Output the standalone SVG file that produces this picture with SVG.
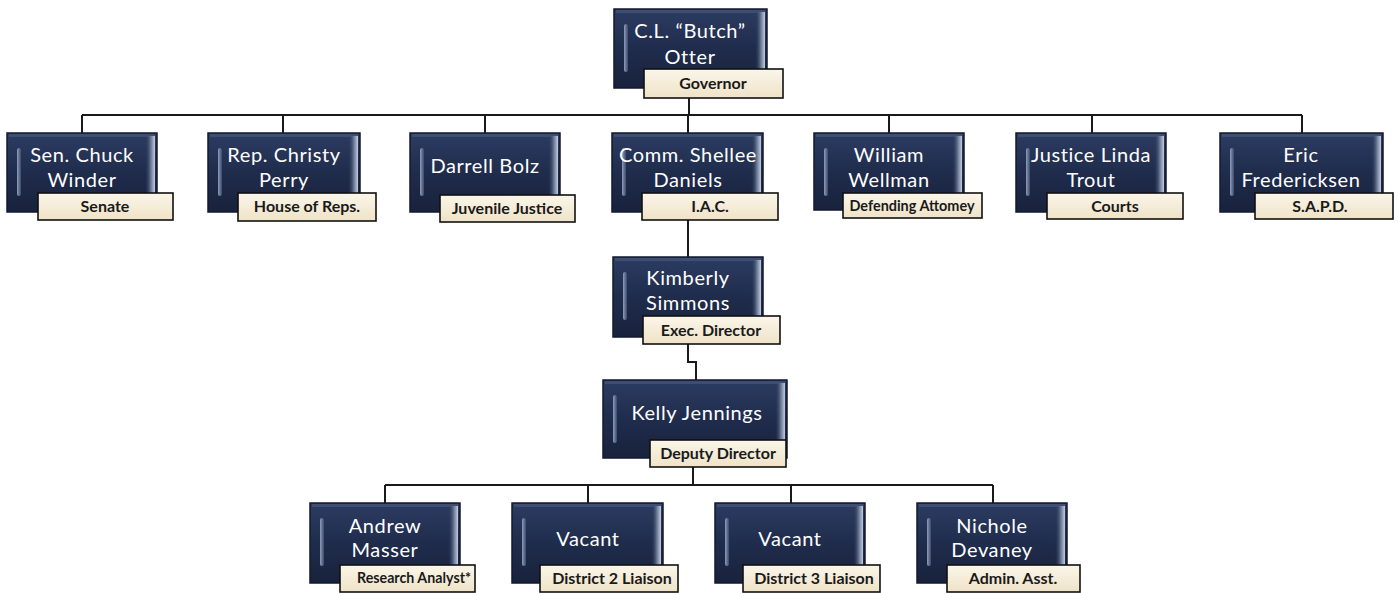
<svg xmlns="http://www.w3.org/2000/svg" width="1398" height="593" viewBox="0 0 1398 593">
<defs>
<linearGradient id="gBox" x1="0" y1="0" x2="0" y2="1">
<stop offset="0" stop-color="#2c3c62"/>
<stop offset="0.5" stop-color="#1f2c4c"/>
<stop offset="1" stop-color="#18223c"/>
</linearGradient>
<linearGradient id="gBevR" x1="0" y1="0" x2="1" y2="0">
<stop offset="0" stop-color="#24324f" stop-opacity="0"/>
<stop offset="0.6" stop-color="#6d7c99"/>
<stop offset="1" stop-color="#c2cbda"/>
</linearGradient>
<linearGradient id="gHl" x1="0" y1="0" x2="1" y2="0">
<stop offset="0" stop-color="#8e9dba"/>
<stop offset="1" stop-color="#3b4a6c"/>
</linearGradient>
<linearGradient id="gLab" x1="0" y1="0" x2="0" y2="1">
<stop offset="0" stop-color="#fbf6ea"/>
<stop offset="1" stop-color="#efe3c7"/>
</linearGradient>
</defs>
<style>
.box{fill:url(#gBox);stroke:#121a2e;stroke-width:1.5}
.bevR{fill:url(#gBevR)}
.bevT{fill:#4b5b7d;opacity:0.6}
.hl{fill:url(#gHl)}
.lab{fill:url(#gLab);stroke:#111;stroke-width:1.6}
.name{font-family:Lato,"Liberation Sans",sans-serif;font-size:20px;letter-spacing:0.6px;fill:#ffffff;text-anchor:middle}
.role{font-family:Lato,"Liberation Sans",sans-serif;font-weight:bold;font-size:16px;fill:#1a1a1a;text-anchor:middle}
.con{fill:none;stroke:#1a1a1a;stroke-width:2}
</style>
<rect width="1398" height="593" fill="#ffffff"/>

<g id="connectors">
<path class="con" d="M689 98 V115"/>
<path class="con" d="M82 115 H1302"/>
<path class="con" d="M82 115 V133 M283 115 V133 M485 115 V133 M688 115 V133 M889 115 V133 M1092 115 V133 M1302 115 V133"/>
<path class="con" d="M688 220 V257"/>
<path class="con" d="M688 344 V362 H696 V380"/>
<path class="con" d="M693 467 V485"/>
<path class="con" d="M385 485 H993"/>
<path class="con" d="M385 485 V503 M588 485 V503 M791 485 V503 M993 485 V503"/>
</g>

<g id="n-governor">
<rect class="box" x="614" y="9" width="153" height="79"/>
<rect class="bevT" x="616" y="10" width="149" height="3"/>
<rect class="bevR" x="755" y="12" width="10" height="74"/>
<rect class="hl" x="624" y="24" width="4" height="48" rx="2"/>
<text class="name" x="690" y="38">C.L. “Butch”</text>
<text class="name" x="690" y="64">Otter</text>
<rect class="lab" x="644" y="69" width="139" height="29"/>
<text class="role" x="713" y="89">Governor</text>
</g>

<g id="n-winder">
<rect class="box" x="7" y="133" width="150" height="79"/>
<rect class="bevT" x="9" y="134" width="146" height="3"/>
<rect class="bevR" x="145" y="136" width="10" height="74"/>
<rect class="hl" x="17" y="148" width="4" height="48" rx="2"/>
<text class="name" x="82" y="162">Sen. Chuck</text>
<text class="name" x="82" y="187">Winder</text>
<rect class="lab" x="38" y="193" width="135" height="27"/>
<text class="role" x="105" y="212">Senate</text>
</g>

<g id="n-perry">
<rect class="box" x="208" y="133" width="152" height="79"/>
<rect class="bevT" x="210" y="134" width="148" height="3"/>
<rect class="bevR" x="348" y="136" width="10" height="74"/>
<rect class="hl" x="218" y="148" width="4" height="48" rx="2"/>
<text class="name" x="284" y="162">Rep. Christy</text>
<text class="name" x="284" y="187">Perry</text>
<rect class="lab" x="238" y="193" width="138" height="28"/>
<text class="role" x="307" y="212">House of Reps.</text>
</g>

<g id="n-bolz">
<rect class="box" x="410" y="133" width="150" height="79"/>
<rect class="bevT" x="412" y="134" width="146" height="3"/>
<rect class="bevR" x="548" y="136" width="10" height="74"/>
<rect class="hl" x="420" y="148" width="4" height="48" rx="2"/>
<text class="name" x="485" y="173">Darrell Bolz</text>
<rect class="lab" x="440" y="195" width="135" height="27"/>
<text class="role" x="507" y="214">Juvenile Justice</text>
</g>

<g id="n-daniels">
<rect class="box" x="612" y="133" width="151" height="79"/>
<rect class="bevT" x="614" y="134" width="147" height="3"/>
<rect class="bevR" x="751" y="136" width="10" height="74"/>
<rect class="hl" x="622" y="148" width="4" height="48" rx="2"/>
<text class="name" x="688" y="162">Comm. Shellee</text>
<text class="name" x="688" y="187">Daniels</text>
<rect class="lab" x="642" y="193" width="136" height="27"/>
<text class="role" x="710" y="212">I.A.C.</text>
</g>

<g id="n-wellman">
<rect class="box" x="814" y="133" width="150" height="77"/>
<rect class="bevT" x="816" y="134" width="146" height="3"/>
<rect class="bevR" x="952" y="136" width="10" height="72"/>
<rect class="hl" x="824" y="148" width="4" height="48" rx="2"/>
<text class="name" x="889" y="162">William</text>
<text class="name" x="889" y="187">Wellman</text>
<rect class="lab" x="843" y="193" width="139" height="25"/>
<text class="role" x="912" y="211" font-size="13" textLength="125" lengthAdjust="spacingAndGlyphs">Defending Attomey</text>
</g>

<g id="n-trout">
<rect class="box" x="1016" y="133" width="150" height="79"/>
<rect class="bevT" x="1018" y="134" width="146" height="3"/>
<rect class="bevR" x="1154" y="136" width="10" height="74"/>
<rect class="hl" x="1026" y="148" width="4" height="48" rx="2"/>
<text class="name" x="1091" y="162">Justice Linda</text>
<text class="name" x="1091" y="187">Trout</text>
<rect class="lab" x="1047" y="193" width="136" height="26"/>
<text class="role" x="1115" y="212">Courts</text>
</g>

<g id="n-fredericksen">
<rect class="box" x="1220" y="133" width="163" height="79"/>
<rect class="bevT" x="1222" y="134" width="159" height="3"/>
<rect class="bevR" x="1371" y="136" width="10" height="74"/>
<rect class="hl" x="1230" y="148" width="4" height="48" rx="2"/>
<text class="name" x="1301" y="162">Eric</text>
<text class="name" x="1301" y="187">Fredericksen</text>
<rect class="lab" x="1255" y="193" width="138" height="26"/>
<text class="role" x="1320" y="212">S.A.P.D.</text>
</g>

<g id="n-simmons">
<rect class="box" x="613" y="257" width="150" height="80"/>
<rect class="bevT" x="615" y="258" width="146" height="3"/>
<rect class="bevR" x="751" y="260" width="10" height="75"/>
<rect class="hl" x="623" y="272" width="4" height="48" rx="2"/>
<text class="name" x="688" y="285">Kimberly</text>
<text class="name" x="688" y="310">Simmons</text>
<rect class="lab" x="643" y="316" width="137" height="28"/>
<text class="role" x="711" y="336">Exec. Director</text>
</g>

<g id="n-jennings">
<rect class="box" x="603" y="380" width="184" height="78"/>
<rect class="bevT" x="605" y="381" width="180" height="3"/>
<rect class="bevR" x="775" y="383" width="10" height="73"/>
<rect class="hl" x="613" y="395" width="4" height="48" rx="2"/>
<text class="name" x="697" y="420">Kelly Jennings</text>
<rect class="lab" x="650" y="440" width="136" height="27"/>
<text class="role" x="718" y="459">Deputy Director</text>
</g>

<g id="n-masser">
<rect class="box" x="310" y="503" width="150" height="80"/>
<rect class="bevT" x="312" y="504" width="146" height="3"/>
<rect class="bevR" x="448" y="506" width="10" height="75"/>
<rect class="hl" x="320" y="518" width="4" height="48" rx="2"/>
<text class="name" x="385" y="533">Andrew</text>
<text class="name" x="385" y="557">Masser</text>
<rect class="lab" x="340" y="565" width="135" height="27"/>
<text class="role" x="414" y="583" font-size="12.5" textLength="114" lengthAdjust="spacingAndGlyphs">Research Analyst*</text>
</g>

<g id="n-vacant2">
<rect class="box" x="512" y="503" width="151" height="80"/>
<rect class="bevT" x="514" y="504" width="147" height="3"/>
<rect class="bevR" x="651" y="506" width="10" height="75"/>
<rect class="hl" x="522" y="518" width="4" height="48" rx="2"/>
<text class="name" x="588" y="546">Vacant</text>
<rect class="lab" x="540" y="565" width="138" height="27"/>
<text class="role" x="612" y="584">District 2 Liaison</text>
</g>

<g id="n-vacant3">
<rect class="box" x="715" y="503" width="150" height="80"/>
<rect class="bevT" x="717" y="504" width="146" height="3"/>
<rect class="bevR" x="853" y="506" width="10" height="75"/>
<rect class="hl" x="725" y="518" width="4" height="48" rx="2"/>
<text class="name" x="790" y="546">Vacant</text>
<rect class="lab" x="743" y="565" width="137" height="27"/>
<text class="role" x="814" y="584" font-size="14.5">District 3 Liaison</text>
</g>

<g id="n-devaney">
<rect class="box" x="917" y="503" width="150" height="80"/>
<rect class="bevT" x="919" y="504" width="146" height="3"/>
<rect class="bevR" x="1055" y="506" width="10" height="75"/>
<rect class="hl" x="927" y="518" width="4" height="48" rx="2"/>
<text class="name" x="992" y="533">Nichole</text>
<text class="name" x="992" y="557">Devaney</text>
<rect class="lab" x="947" y="565" width="133" height="27"/>
<text class="role" x="1013" y="584">Admin. Asst.</text>
</g>
</svg>
